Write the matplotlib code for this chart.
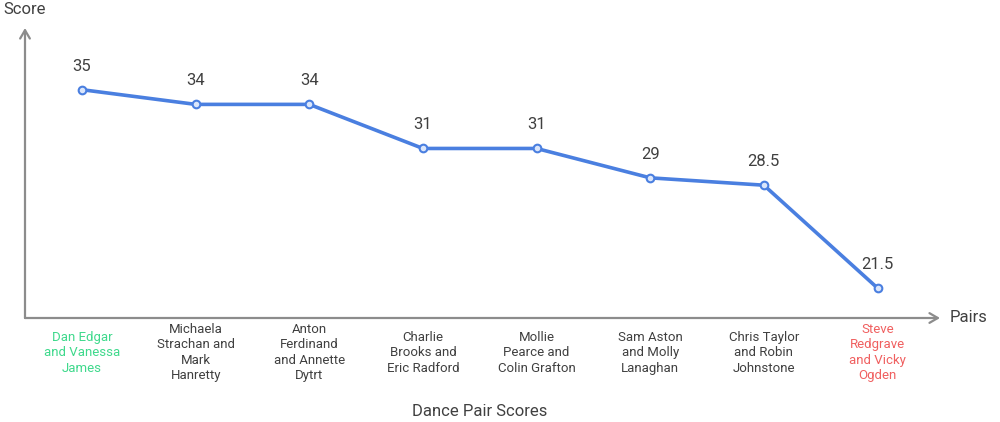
import matplotlib
matplotlib.use("Agg")
from matplotlib import pyplot as plt

plt.rcParams['font.family'] = ['Roboto', 'DejaVu Sans']

pairs = [
    "Dan Edgar\nand Vanessa\nJames",
    "Michaela\nStrachan and\nMark\nHanretty",
    "Anton\nFerdinand\nand Annette\nDytrt",
    "Charlie\nBrooks and\nEric Radford",
    "Mollie\nPearce and\nColin Grafton",
    "Sam Aston\nand Molly\nLanaghan",
    "Chris Taylor\nand Robin\nJohnstone",
    "Steve\nRedgrave\nand Vicky\nOgden",
]
scores = [35, 34, 34, 31, 31, 29, 28.5, 21.5]
score_labels = ["35", "34", "34", "31", "31", "29", "28.5", "21.5"]

line_col = "#4a7fe0"
axis_col = "#8c8c8c"
text_col = "#404040"
label_cols = ["#3fd98c"] + ["#404040"] * 6 + ["#f06060"]

fig = plt.figure(figsize=(10, 4.22), dpi=100)
ax = fig.add_axes([0.025, 104 / 422, 0.915, 290 / 422])
ax.set_xlim(-0.502, 7.55)
ax.set_ylim(19.46, 39.2)
for s in ax.spines.values():
    s.set_visible(False)
ax.set_xticks([])
ax.set_yticks([])

x = list(range(len(scores)))
ax.plot(x, scores, color=line_col, lw=2.6, marker="o", ms=5.5,
        mfc="#dbe6fb", mec=line_col, mew=1.5, zorder=3)

for xi, yi, lab in zip(x, scores, score_labels):
    ax.annotate(lab, (xi, yi), xytext=(0, 17), textcoords="offset points",
                ha="center", va="center", fontsize=12, color=text_col)

# axis arrows
arrow = dict(arrowstyle="->,head_length=0.6,head_width=0.35", color=axis_col, lw=1.6,
             shrinkA=0, shrinkB=0)
ax.annotate("", xy=(1, 0), xytext=(0, 0), xycoords="axes fraction",
            textcoords="axes fraction", arrowprops=arrow, annotation_clip=False)
ax.annotate("", xy=(0, 1), xytext=(0, 0), xycoords="axes fraction",
            textcoords="axes fraction", arrowprops=arrow, annotation_clip=False)

# category labels
for xi, lab, c in zip(x, pairs, label_cols):
    ax.annotate(lab, (xi, 0), xycoords=("data", "axes fraction"),
                xytext=(0, -25), textcoords="offset points",
                ha="center", va="center", fontsize=9.5, color=c, linespacing=1.25,
                annotation_clip=False)

fig.text(0.025, 1 - 10 / 422, "Score", ha="center", va="center", fontsize=12, color=text_col)
fig.text(0.950, 1 - 318 / 422, "Pairs", ha="left", va="center", fontsize=12, color=text_col)
fig.text(0.48, 1 - 412 / 422, "Dance Pair Scores", ha="center", va="center",
         fontsize=12, color=text_col)

fig.savefig("out.png", dpi=100)
